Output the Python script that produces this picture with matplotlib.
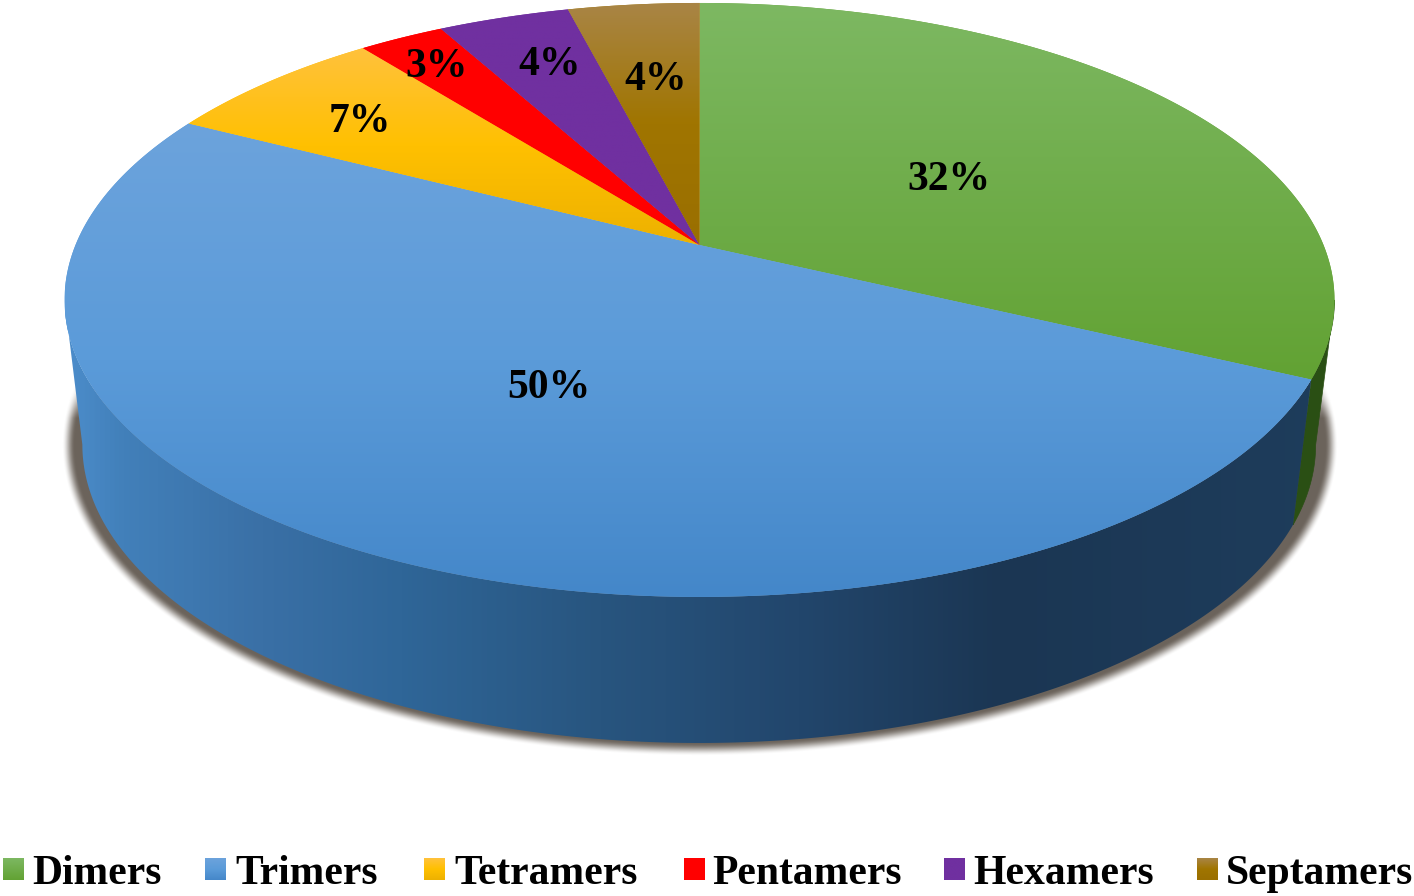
import numpy as np
import matplotlib
matplotlib.use('Agg')
import matplotlib.pyplot as plt
from matplotlib.colors import LinearSegmentedColormap
from matplotlib.patches import Polygon

# 数据
names = ['Dimers', 'Trimers', 'Tetramers', 'Pentamers', 'Hexamers', 'Septamers']
values = [32.1, 50.49, 6.8, 2.6, 4.0, 4.0]

# 颜色 (上 -> 下)
top_colors = [['#7DB862', '#62A233'], ['#6CA3DC', '#5B9BD9', '#4487C9'], ['#FFC23C', '#FFC000', '#EDB100'],
              ['#FF0000', '#FF0000'], ['#7030A0', '#7030A0'], ['#A98546', '#A07500', '#9A6F00']]
side_stops = ['#4C8DCB', '#4280BA', '#3A70A6', '#2F6698', '#28557F', '#22466C', '#1B3653', '#1E3D5C']
side_pos = [65, 120, 260, 400, 600, 800, 1000, 1335]
green_side = '#2A4F14'

# 位置
label_xy = [(949, 180), (549, 388), (360, 122), (437, 67), (550, 65), (656, 80)]
square_x = [3, 205, 424, 684, 944, 1197]
text_x = [32, 235, 454, 712, 973, 1226]

# 透视参数
k = 0.185
top_c = (699.5, 245, 624, 286.8)
low_c = (699, 389.6, 606, 288)


def rim(c, deg):
    t = np.radians(deg)
    w = 1 + k * np.cos(t)
    return np.column_stack([c[0] + c[2] * np.sin(t) / w, c[1] - c[3] * np.cos(t) / w])


def grad_fill(poly, colors, z):
    # 竖直渐变, 用多边形裁剪; 底下垫一层补缝
    ymin, ymax = poly[:, 1].min(), poly[:, 1].max()
    ax.add_patch(Polygon(poly, fc=colors[len(colors) // 2], ec='none', zorder=z - 0.5))
    cmap = LinearSegmentedColormap.from_list('g', colors)
    im = ax.imshow(np.linspace(0, 1, 256).reshape(-1, 1), cmap=cmap, aspect='auto',
                   extent=[poly[:, 0].min(), poly[:, 0].max(), ymax, ymin], zorder=z)
    im.set_clip_path(Polygon(poly, transform=ax.transData))


fig = plt.figure(figsize=(14.14, 8.96), dpi=100)
ax = fig.add_axes([0, 0, 1, 1])

# 阴影
xx, yy = np.meshgrid(np.arange(0, 1414) + 0.5, np.arange(340, 780) + 0.5)
dx, dy = (xx - 700) / 630, (yy - 445) / 303
r = np.sqrt(dx ** 2 + dy ** 2)
g = np.sqrt((dx / 630) ** 2 + (dy / 303) ** 2) / r
d = (r - 1) / g
s = np.clip((8 - d) / 13, 0, 1)
alpha = s * s * (3 - 2 * s) * np.clip((yy - 378) / 40, 0, 1)
shadow = np.zeros(xx.shape + (4,))
shadow[..., :3] = (0.42, 0.39, 0.36)
shadow[..., 3] = alpha
ax.imshow(shadow, extent=[0, 1414, 780, 340], aspect='auto', zorder=1)

# 侧面
edges = np.cumsum([0] + values) / sum(values) * 360
sil = np.degrees(np.arccos(-k))
a = np.linspace(sil, edges[1], 60)
ax.add_patch(Polygon(np.vstack([rim(top_c, a), rim(low_c, a[::-1])]), fc=green_side, ec=green_side,
                     lw=0.5, zorder=2))
a = np.linspace(edges[1], 360 - sil, 300)
side = np.vstack([rim(top_c, a), rim(low_c, a[::-1])])
cmap = LinearSegmentedColormap.from_list('s', [((p - side_pos[0]) / (side_pos[-1] - side_pos[0]), c)
                                               for p, c in zip(side_pos, side_stops)])
im = ax.imshow(np.linspace(0, 1, 512).reshape(1, -1), cmap=cmap, aspect='auto',
               extent=[side_pos[0], side_pos[-1], 780, 280], zorder=3)
im.set_clip_path(Polygon(side, transform=ax.transData))

# 顶面
for i in range(6):
    a = np.linspace(edges[i], edges[i + 1], 200)
    poly = np.vstack([[top_c[0], top_c[1]], rim(top_c, a)])
    grad_fill(poly, top_colors[i], 5)
    ax.text(label_xy[i][0], label_xy[i][1], '%d%%' % round(values[i]), ha='center', va='center',
            family='Liberation Serif', weight='bold', fontsize=30, color='black', zorder=6)

# 图例
for i in range(6):
    poly = np.array([[square_x[i], 858], [square_x[i] + 21, 858], [square_x[i] + 21, 880], [square_x[i], 880]], float)
    grad_fill(poly, top_colors[i], 5)
    ax.text(text_x[i], 884, names[i], ha='left', va='baseline', family='Liberation Serif', weight='bold',
            fontsize=30, color='black', zorder=6)

ax.set_xlim(0, 1414)
ax.set_ylim(896, 0)
ax.axis('off')

fig.savefig('out.png', dpi=100)
